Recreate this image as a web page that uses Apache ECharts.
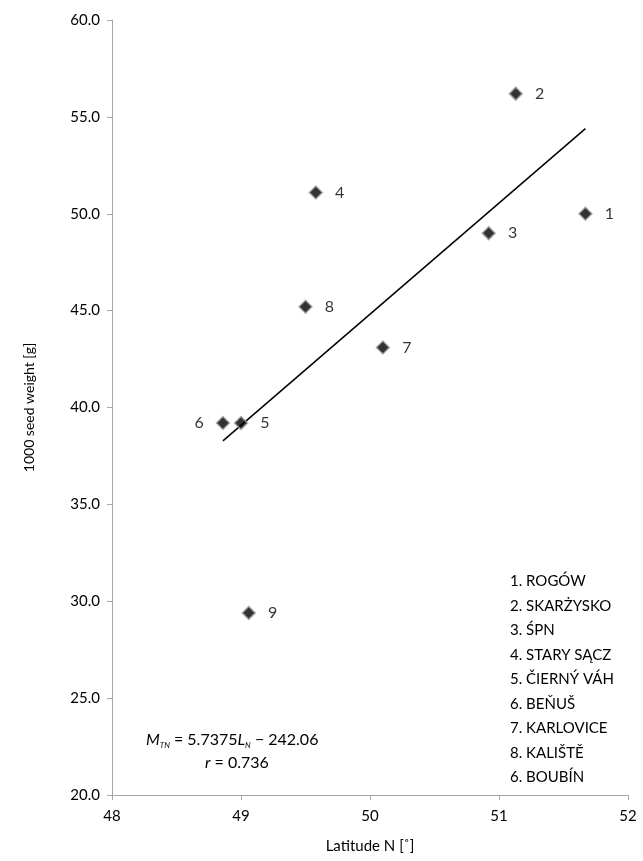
<!DOCTYPE html>
<html><head><meta charset="utf-8">
<script src="https://cdn.jsdelivr.net/npm/echarts@6/dist/echarts.min.js"></script>
<style>html,body{margin:0;padding:0;background:#fff}#c{width:643px;height:861px}</style>
</head><body><div id="c"></div>
<script>
const siteIds = ['1', '2', '3', '4', '5', '6', '7', '8', '9'];
const latitude = [51.67, 51.13, 50.92, 49.58, 49.00, 48.86, 50.10, 49.50, 49.06];
const seedWeight = [50.0, 56.2, 49.0, 51.1, 39.2, 39.2, 43.1, 45.2, 29.4];
const legendItems = ['1. ROGÓW', '2. SKARŻYSKO', '3. ŚPN', '4. STARY SĄCZ', '5. ČIERNÝ VÁH', '6. BEŇUŠ', '7. KARLOVICE', '8. KALIŠTĚ', '6. BOUBÍN'];
const xTicks = [48, 49, 50, 51, 52];
const yTicks = [20, 25, 30, 35, 40, 45, 50, 55, 60];
const trendSlope = 5.7375;
const trendIntercept = -242.06;
const rValue = '0.736';
const xName = 'Latitude N [˚]';
const yName = '1000 seed weight [g]';

const FONT = 'Lato';
const points = latitude.map((x, i) => ({
  value: [x, seedWeight[i]],
  name: siteIds[i],
  label: { position: siteIds[i] === '6' ? 'left' : 'right' }
}));
const xMinData = Math.min(...latitude), xMaxData = Math.max(...latitude);
const trend = [xMinData, xMaxData].map(x => [x, trendSlope * x + trendIntercept]);

const chart = echarts.init(document.getElementById('c'), null, { renderer: 'canvas' });
const axisColor = '#a6a6a6';
chart.setOption({
  animation: false,
  backgroundColor: '#fff',
  grid: { left: 112, right: 15, top: 20, bottom: 66 },
  xAxis: {
    type: 'value', min: xTicks[0], max: xTicks[xTicks.length - 1], interval: 1,
    name: xName, nameLocation: 'middle', nameGap: 44,
    nameTextStyle: { fontFamily: FONT, fontSize: 15, color: '#000' },
    axisLine: { show: true, lineStyle: { color: axisColor, width: 1 } },
    axisTick: { show: true, length: 5, lineStyle: { color: axisColor } },
    axisLabel: { fontFamily: FONT, fontSize: 15, color: '#000', margin: 14 },
    splitLine: { show: false }
  },
  yAxis: {
    type: 'value', min: yTicks[0], max: yTicks[yTicks.length - 1], interval: 5,
    name: yName, nameLocation: 'middle', nameGap: 76,
    nameTextStyle: { fontFamily: FONT, fontSize: 14, color: '#000' },
    axisLine: { show: true, lineStyle: { color: axisColor, width: 1 } },
    axisTick: { show: true, length: 5, lineStyle: { color: axisColor } },
    axisLabel: { fontFamily: FONT, fontSize: 15, color: '#000', margin: 12, formatter: v => v.toFixed(1) },
    splitLine: { show: false }
  },
  series: [
    {
      type: 'line', data: trend, symbol: 'none', silent: true,
      lineStyle: { color: '#000', width: 1.5 }, z: 2
    },
    {
      type: 'scatter', data: points, symbol: 'diamond', symbolSize: 13,
      itemStyle: { color: '#000', borderColor: '#a0a0a0', borderWidth: 1.5 },
      label: { show: true, formatter: p => p.name, distance: 12, fontFamily: FONT, fontSize: 16, color: '#000' },
      z: 3
    }
  ],
  graphic: [
    {
      type: 'text', left: 510, top: 569,
      style: {
        text: legendItems.join('\n'), fontFamily: FONT, fontSize: 15, lineHeight: 24.5, fill: '#000'
      }
    },
    {
      type: 'text', left: 146, top: 732,
      style: {
        text: '{i|M}{s|TN} = 5.7375{i|L}{s|N} − 242.06',
        fontFamily: FONT, fontSize: 16, fill: '#000',
        rich: {
          i: { fontStyle: 'italic', fontFamily: FONT, fontSize: 16 },
          s: { fontStyle: 'italic', fontFamily: FONT, fontSize: 8, padding: [10, 0, 0, 0] }
        }
      }
    },
    {
      type: 'text', left: 205, top: 755,
      style: {
        text: '{i|r} = ' + rValue,
        fontFamily: FONT, fontSize: 16, fill: '#000',
        rich: { i: { fontStyle: 'italic', fontFamily: FONT, fontSize: 16 } }
      }
    }
  ]
});
</script></body></html>
